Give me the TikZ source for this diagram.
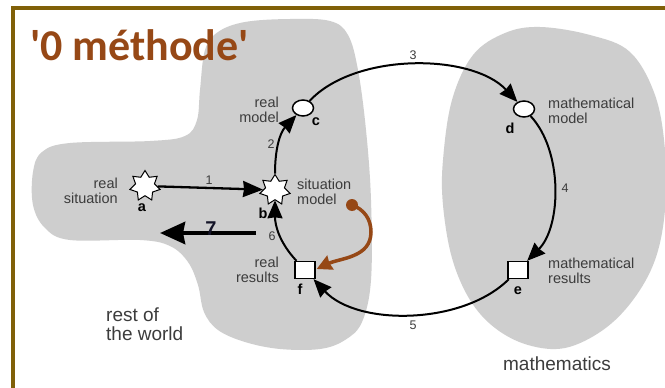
\documentclass[tikz,border=0pt]{standalone}
\usepackage{fontspec}
\setmainfont{Liberation Sans}
\newfontfamily\titlefont{Carlito}
\usetikzlibrary{arrows.meta,shapes.geometric}
\definecolor{blobgray}{RGB}{206,206,206}
\definecolor{framec}{RGB}{128,96,8}
\definecolor{brownc}{RGB}{150,72,22}
\definecolor{txtc}{RGB}{60,60,60}
\definecolor{sevenc}{RGB}{20,20,40}
\tikzset{
  cyc/.style={line width=2pt, -{Stealth[length=18pt,width=15pt,inset=1pt]}},
  starnode/.style={star, star points=7, star point ratio=1.6, minimum size=31pt, inner sep=0pt, draw=black, line width=1pt, fill=white},
  circnode/.style={ellipse, minimum width=21pt, minimum height=16pt, inner sep=0pt, draw=black, line width=1.5pt, fill=white},
  sqnode/.style={rectangle, minimum width=20pt, minimum height=17pt, inner sep=0pt, draw=black, line width=1.3pt, fill=white},
  letter/.style={font=\fontsize{14.5}{14.5}\selectfont\bfseries, text=black, inner sep=0pt},
  desc/.style={font=\fontsize{14.5}{15.5}\selectfont, text=txtc, inner sep=0pt},
  num/.style={font=\fontsize{12.5}{12.5}\selectfont, text=txtc, inner sep=0pt},
  big/.style={font=\fontsize{19}{19}\selectfont, text=txtc, inner sep=0pt}
}
\begin{document}
\begin{tikzpicture}[x=1pt,y=1pt]
\useasboundingbox (0,0) rectangle (665,-388);
\fill[white] (0,0) rectangle (665,-388);
% frame
\draw[line width=4pt, framec] (13,-8) rectangle (690,-410);
% left blob
\fill[blobgray] plot[smooth cycle, tension=0.6] coordinates {
 (200,-90) (205,-50) (218,-32) (245,-22) (290,-19) (330,-21) (348,-35) (358,-70)
 (366,-130) (371,-200) (371,-280) (362,-322) (345,-340) (320,-349) (280,-349)
 (245,-342) (218,-330) (204,-312) (198,-285) (188,-262) (170,-246) (140,-240)
 (70,-240) (45,-228) (33,-205) (33,-172) (42,-152) (70,-143) (150,-141) (185,-136) (197,-120)};
% right blob
\fill[blobgray] plot[smooth cycle, tension=0.6] coordinates {
 (540,-27) (590,-35) (630,-52) (655,-95) (665,-150) (665,-210) (655,-260) (633,-300)
 (603,-330) (565,-348) (528,-345) (495,-328) (470,-300) (452,-258) (443,-205)
 (443,-160) (452,-100) (473,-55) (505,-33)};
% title
\node[anchor=base west, inner sep=0pt, text=brownc, font=\titlefont\fontsize{44}{44}\selectfont\bfseries] (title) at (30,-60) {'0 méthode'};
% nodes
\node[starnode] (a) at (145,-186) {};
\node[starnode] (b) at (275,-190) {};
\node[circnode] (c) at (303,-108) {};
\node[circnode] (d) at (524,-109) {};
\node[sqnode] (e) at (518,-270) {};
\node[sqnode] (f) at (305,-270) {};
% letters
\node[letter] (la) at (142,-208) {a};
\node[letter] (lb) at (263,-213) {b};
\node[letter] (lc) at (316,-122) {c};
\node[letter] (ld) at (510,-128) {d};
\node[letter] (le) at (518,-291) {e};
\node[letter] (lf) at (300,-289) {f};
% descriptions
\node[desc, anchor=east, align=right] (ta) at (118,-191) {real\\situation};
\node[desc, anchor=west, align=left] (tb) at (297,-192) {situation\\model};
\node[desc, anchor=east, align=right] (tc) at (279,-110) {real\\model};
\node[desc, anchor=west, align=left] (td) at (548,-111) {mathematical\\model};
\node[desc, anchor=west, align=left] (te) at (548,-271) {mathematical\\results};
\node[desc, anchor=east, align=right] (tf) at (279,-270) {real\\results};
\node[big, anchor=west, align=left] (rw) at (106,-324) {rest of\\the world};
\node[big] (ma) at (557,-364) {mathematics};
% connectors
\draw[line width=2.3pt, -{Stealth[length=20pt,width=16pt,inset=1pt]}] (a) -- (b);
\draw[cyc] (b) to[out=90, in=227] (c);
\draw[cyc] (c) to[out=47, in=133, looseness=0.82] (d);
\draw[cyc] (d) to[out=-47, in=45, looseness=0.85] (e);
\draw[cyc] (e) to[out=-135, in=-47, looseness=0.85] (f);
\draw[cyc] (f) to[out=133, in=270] (b);
% numbers
\node[num] (n1) at (209,-180) {1};
\node[num] (n2) at (271,-144) {2};
\node[num] (n3) at (413,-55) {3};
\node[num] (n4) at (565,-188) {4};
\node[num] (n5) at (413,-325) {5};
\node[num] (n6) at (272,-236) {6};
% arrow 7
\coordinate (s7) at (256,-233);
\coordinate (t7) at (160,-233);
\draw[line width=4.5pt, -{Stealth[length=25pt,width=22pt,inset=2pt]}] (s7) -- (t7);
\node[inner sep=0pt, text=sevenc, font=\fontsize{20}{20}\selectfont\bfseries] (n7) at (211,-229) {7};
% brown arrow
\node[circle, fill=brownc, minimum size=12pt, inner sep=0pt] (dot) at (352,-205) {};
\coordinate (bend) at (371,-232);
\draw[brownc, line width=3.5pt, -{Stealth[length=15pt,width=15pt,inset=1pt]}]
  (dot.center) to[out=-20, in=90] (bend) to[out=-90, in=25] ([xshift=1pt,yshift=1pt]f.east);
\end{tikzpicture}
\end{document}
